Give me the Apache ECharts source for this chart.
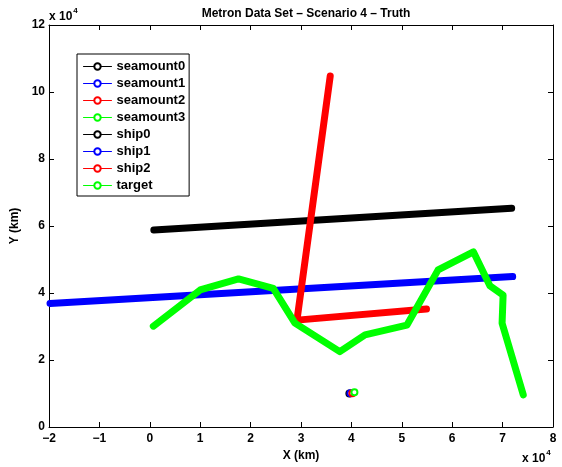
<!DOCTYPE html>
<html>
<head>
<meta charset="utf-8">
<script src="https://cdn.jsdelivr.net/npm/echarts@6/dist/echarts.min.js"></script>
<style>
  html, body { margin: 0; padding: 0; background: #fff; }
  #chart { width: 562px; height: 467px; }
</style>
</head>
<body>
<div id="chart"></div>
<script>
// Track positions in metres ([x, y]); axes show values in units of 10^4.
const seamount0 = [[39600, 10000]];
const seamount1 = [[39800, 10100]];
const seamount2 = [[40200, 10100]];
const seamount3 = [[40600, 10400]];
const ship0 = [[800, 58800], [71800, 65300]];
const ship1 = [[-19800, 36900], [72000, 44900]];
const ship2 = [[35800, 104800], [29200, 31900], [54900, 35200]];
const target = [
  [700, 30100], [10000, 40900], [17600, 44200], [24500, 41400],
  [28800, 31000], [37700, 22500], [42700, 27500], [51000, 30400],
  [57200, 46900], [64200, 52300], [67500, 42100], [70100, 39400],
  [69900, 31000], [74100, 9600]
];

const seriesNames = ['seamount0', 'seamount1', 'seamount2', 'seamount3', 'ship0', 'ship1', 'ship2', 'target'];
const seriesData = [seamount0, seamount1, seamount2, seamount3, ship0, ship1, ship2, target];
const seriesColors = ['#000000', '#0000ff', '#ff0000', '#00ff00', '#000000', '#0000ff', '#ff0000', '#00ff00'];

const xTicks = { min: -20000, max: 80000, step: 10000 };
const yTicks = { min: 0, max: 120000, step: 20000 };

const FONT = 'Liberation Sans, Arial, Helvetica, sans-serif';
const fmt = v => {
  const n = Math.round(v / 10000);
  return n < 0 ? '\u2212' + Math.abs(n) : String(n);
};

const labelStyle = { color: '#000', fontFamily: FONT, fontWeight: 'bold', fontSize: 12 };
const tickIn = { show: true, inside: true, length: 5, lineStyle: { color: '#000', width: 1 } };
const axisLine = { show: true, onZero: false, lineStyle: { color: '#000', width: 1 } };

// Tracks are drawn as thick bands; single-position seamounts as small rings.
const series = seriesNames.map((name, i) => {
  const isPoint = seriesData[i].length === 1;
  return {
    name,
    type: 'line',
    data: seriesData[i],
    color: seriesColors[i],
    symbol: 'emptyCircle',
    symbolSize: 6,
    showSymbol: isPoint,
    animation: false,
    lineStyle: { width: isPoint ? 1 : 7, color: seriesColors[i], cap: 'round', join: 'round' },
    itemStyle: { color: seriesColors[i], borderColor: seriesColors[i], borderWidth: 1 },
    emphasis: { disabled: true },
    z: 2 + i
  };
});

const superscriptLabel = (left, top) => ({
  type: 'text', left, top,
  style: {
    text: '{b|x 10}{s|4}',
    rich: {
      b: { fontFamily: FONT, fontWeight: 'bold', fontSize: 12, fill: '#000', lineHeight: 16, verticalAlign: 'bottom' },
      s: { fontFamily: FONT, fontWeight: 'bold', fontSize: 8, fill: '#000', lineHeight: 16, verticalAlign: 'top', padding: [0, 0, 0, 1] }
    }
  }
});

const chart = echarts.init(document.getElementById('chart'), null, { renderer: 'canvas' });
chart.setOption({
  backgroundColor: '#fff',
  animation: false,
  title: {
    text: 'Metron Data Set \u2013 Scenario 4 \u2013 Truth',
    left: 301, top: 3, textAlign: 'center',
    textStyle: { fontFamily: FONT, fontWeight: 'bold', fontSize: 12, color: '#000' }
  },
  grid: { left: 49, right: 9, top: 25, bottom: 40, containLabel: false },
  legend: {
    orient: 'vertical',
    left: 77, top: 54,
    padding: [6, 4, 4, 6],
    itemGap: 4,
    itemWidth: 28, itemHeight: 8,
    backgroundColor: '#fff',
    borderColor: '#000', borderWidth: 1, borderRadius: 0,
    textStyle: { fontFamily: FONT, fontWeight: 'bold', fontSize: 13, color: '#000', lineHeight: 13 },
    lineStyle: { width: 1 },
    itemStyle: { borderWidth: 1 },
    data: seriesNames
  },
  xAxis: [
    {
      type: 'value', position: 'bottom',
      min: xTicks.min, max: xTicks.max, interval: xTicks.step,
      axisLine, axisTick: tickIn, splitLine: { show: false },
      axisLabel: Object.assign({ formatter: fmt, margin: 6 }, labelStyle),
      name: 'X (km)', nameLocation: 'middle', nameGap: 13,
      nameTextStyle: labelStyle
    },
    {
      type: 'value', position: 'top',
      min: xTicks.min, max: xTicks.max, interval: xTicks.step,
      axisLine, axisTick: tickIn, splitLine: { show: false },
      axisLabel: { show: false }
    }
  ],
  yAxis: [
    {
      type: 'value', position: 'left',
      min: yTicks.min, max: yTicks.max, interval: yTicks.step,
      axisLine, axisTick: tickIn, splitLine: { show: false },
      axisLabel: Object.assign({ formatter: fmt, margin: 4 }, labelStyle),
      name: 'Y (km)', nameLocation: 'middle', nameGap: 27,
      nameTextStyle: labelStyle
    },
    {
      type: 'value', position: 'right',
      min: yTicks.min, max: yTicks.max, interval: yTicks.step,
      axisLine, axisTick: tickIn, splitLine: { show: false },
      axisLabel: { show: false }
    }
  ],
  graphic: [superscriptLabel(49, 7), superscriptLabel(522, 449)],
  series
});
</script>
</body>
</html>
